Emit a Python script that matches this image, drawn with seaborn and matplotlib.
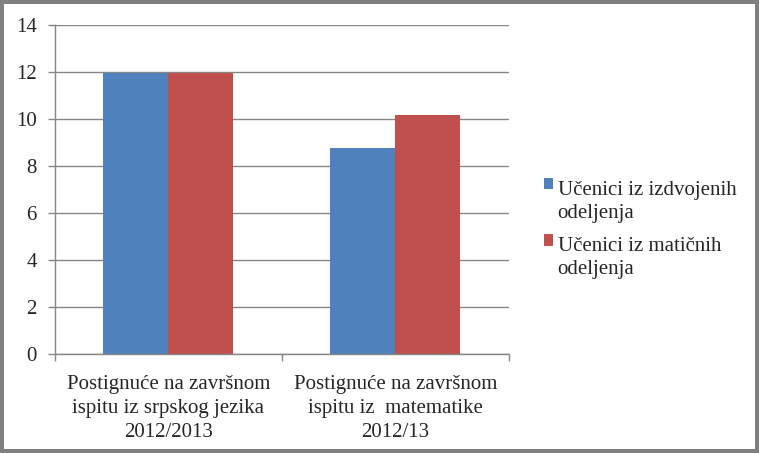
import matplotlib
matplotlib.use("Agg")
import matplotlib.pyplot as plt
from matplotlib.legend_handler import HandlerPatch
from matplotlib.patches import Rectangle
import pandas as pd
import seaborn as sns

CATEGORIES = [
    "Postignuće na završnom\nispitu iz srpskog jezika\n2012/2013",
    "Postignuće na završnom\nispitu iz  matematike\n2012/13",
]
SERIES = ["Učenici iz izdvojenih\nodeljenja", "Učenici iz matičnih\nodeljenja"]
IZDVOJENA = [11.93, 8.75]
MATICNA = [11.93, 10.15]
COLORS = ["#4F81BD", "#C0504D"]

df = pd.DataFrame({
    "Kategorija": CATEGORIES * 2,
    "Grupa": [SERIES[0]] * 2 + [SERIES[1]] * 2,
    "Vrednost": IZDVOJENA + MATICNA,
})

sns.set_style("white")
plt.rcParams["font.family"] = ["Liberation Serif", "DejaVu Serif"]
FS = 15

fig = plt.figure(figsize=(7.59, 4.53), dpi=100)
ax = fig.add_axes([0.0721, 0.2185, 0.5985, 0.7274])

sns.barplot(
    data=df, x="Kategorija", y="Vrednost", hue="Grupa",
    palette=COLORS, width=0.573, gap=0, saturation=1,
    linewidth=0, ax=ax, legend=True,
)

ax.set_ylim(0, 14)
ax.set_xlim(-0.5, 1.5)
ax.set_yticks(range(0, 15, 2))
ax.yaxis.grid(True, color="#868686", linewidth=1)
ax.set_axisbelow(True)
ax.set_xlabel("")
ax.set_ylabel("")

for side in ["top", "right"]:
    ax.spines[side].set_visible(False)
for side in ["left", "bottom"]:
    ax.spines[side].set_color("#868686")
    ax.spines[side].set_linewidth(1)

ax.tick_params(axis="y", length=5, width=1, color="#868686", labelsize=FS, pad=8, left=True)
ax.set_xticks([0, 1])
ax.set_xticklabels(CATEGORIES, fontsize=FS, linespacing=1.36)
ax.tick_params(axis="x", which="major", length=0, pad=15)
ax.set_xticks([-0.5, 0.5, 1.5], minor=True)
ax.tick_params(axis="x", which="minor", length=5, width=1, color="#868686", bottom=True)


def top_square(legend, orig_handle, xdescent, ydescent, width, height, fontsize):
    # square next to the first line of a two-line label
    return Rectangle((-xdescent, -ydescent + fontsize * 0.85), width, height)


handles, labels = ax.get_legend_handles_labels()
leg = ax.legend(
    handles, labels, loc="upper left", bbox_to_anchor=(0.692, 0.642),
    bbox_transform=fig.transFigure, frameon=False, fontsize=FS,
    handlelength=0.45, handleheight=0.45, handletextpad=0.2, labelspacing=0.7,
    handler_map={h: HandlerPatch(patch_func=top_square) for h in handles},
)
for t in leg.get_texts():
    t.set_linespacing(1.27)

fig.patch.set_edgecolor("#7f7f7f")
fig.patch.set_linewidth(5.5)

fig.savefig("out.png", dpi=100)
